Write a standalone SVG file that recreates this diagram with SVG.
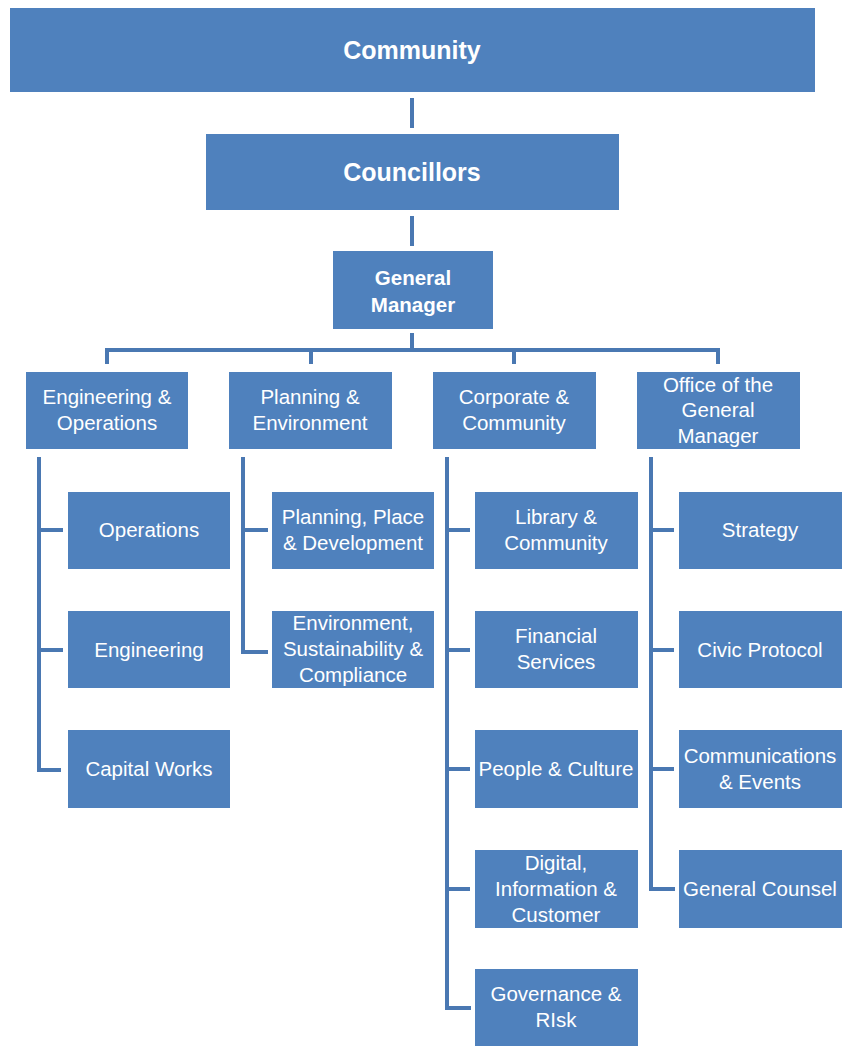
<svg xmlns="http://www.w3.org/2000/svg" width="844" height="1046" viewBox="0 0 844 1046">
<style>
.box{fill:#4F81BD;}
.t{font-family:"Liberation Sans",Arial,sans-serif;font-size:20.5px;fill:#ffffff;text-anchor:middle;}
.b{font-weight:bold;}
.c{fill:none;stroke:#4A78B2;stroke-width:4;stroke-linejoin:miter;}
</style>
<rect width="844" height="1046" fill="#ffffff"/>
<g id="connectors">
<path class="c" d="M412 98V128"/>
<path class="c" d="M412 216V246"/>
<path class="c" d="M412 333V350"/>
<path class="c" d="M107 364V350H718V364"/>
<path class="c" d="M311 350V364"/>
<path class="c" d="M514 350V364"/>
<path class="c" d="M39 457V770H61"/>
<path class="c" d="M39 530H63M39 650H63"/>
<path class="c" d="M243 457V652H268"/>
<path class="c" d="M243 530H268"/>
<path class="c" d="M447 457V1008H471"/>
<path class="c" d="M447 530H470M447 650H470M447 769H470M447 889H470"/>
<path class="c" d="M651 457V889H675"/>
<path class="c" d="M651 530H674M651 650H674M651 769H674"/>
</g>
<g id="community"><rect class="box" x="10" y="8" width="805" height="84"/><text class="t b" x="412" y="59" style="font-size:25px">Community</text></g>
<g id="councillors"><rect class="box" x="206" y="134" width="413" height="76"/><text class="t b" x="412" y="181" style="font-size:25px">Councillors</text></g>
<g id="general-manager"><rect class="box" x="333" y="251" width="160" height="78"/><text class="t b" x="413" y="285">General</text><text class="t b" x="413" y="312">Manager</text></g>

<g id="engineering-operations"><rect class="box" x="26" y="372" width="162" height="77"/><text class="t" x="107" y="404">Engineering &amp;</text><text class="t" x="107" y="430">Operations</text></g>
<g id="planning-environment"><rect class="box" x="229" y="372" width="163" height="77"/><text class="t" x="310" y="404">Planning &amp;</text><text class="t" x="310" y="430">Environment</text></g>
<g id="corporate-community"><rect class="box" x="433" y="372" width="163" height="77"/><text class="t" x="514" y="404">Corporate &amp;</text><text class="t" x="514" y="430">Community</text></g>
<g id="office-gm"><rect class="box" x="637" y="372" width="163" height="77"/><text class="t" x="718" y="392">Office of the</text><text class="t" x="718" y="417">General</text><text class="t" x="718" y="443">Manager</text></g>

<g id="operations"><rect class="box" x="68" y="492" width="162" height="77"/><text class="t" x="149" y="537">Operations</text></g>
<g id="engineering"><rect class="box" x="68" y="611" width="162" height="77"/><text class="t" x="149" y="657">Engineering</text></g>
<g id="capital-works"><rect class="box" x="68" y="730" width="162" height="78"/><text class="t" x="149" y="776">Capital Works</text></g>

<g id="planning-place"><rect class="box" x="272" y="492" width="162" height="77"/><text class="t" x="353" y="524">Planning, Place</text><text class="t" x="353" y="550">&amp; Development</text></g>
<g id="environment-sustainability"><rect class="box" x="272" y="611" width="162" height="77"/><text class="t" x="353" y="630">Environment,</text><text class="t" x="353" y="656">Sustainability &amp;</text><text class="t" x="353" y="682">Compliance</text></g>

<g id="library-community"><rect class="box" x="475" y="492" width="163" height="77"/><text class="t" x="556" y="524">Library &amp;</text><text class="t" x="556" y="550">Community</text></g>
<g id="financial-services"><rect class="box" x="475" y="611" width="163" height="77"/><text class="t" x="556" y="643">Financial</text><text class="t" x="556" y="669">Services</text></g>
<g id="people-culture"><rect class="box" x="475" y="730" width="163" height="78"/><text class="t" x="556" y="776">People &amp; Culture</text></g>
<g id="digital"><rect class="box" x="475" y="850" width="163" height="78"/><text class="t" x="556" y="870">Digital,</text><text class="t" x="556" y="896">Information &amp;</text><text class="t" x="556" y="922">Customer</text></g>
<g id="governance-risk"><rect class="box" x="475" y="969" width="163" height="77"/><text class="t" x="556" y="1001">Governance &amp;</text><text class="t" x="556" y="1027">RIsk</text></g>

<g id="strategy"><rect class="box" x="679" y="492" width="163" height="77"/><text class="t" x="760" y="537">Strategy</text></g>
<g id="civic-protocol"><rect class="box" x="679" y="611" width="163" height="77"/><text class="t" x="760" y="657">Civic Protocol</text></g>
<g id="communications-events"><rect class="box" x="679" y="730" width="163" height="78"/><text class="t" x="760" y="763">Communications</text><text class="t" x="760" y="789">&amp; Events</text></g>
<g id="general-counsel"><rect class="box" x="679" y="850" width="163" height="78"/><text class="t" x="760" y="896">General Counsel</text></g>
</svg>
